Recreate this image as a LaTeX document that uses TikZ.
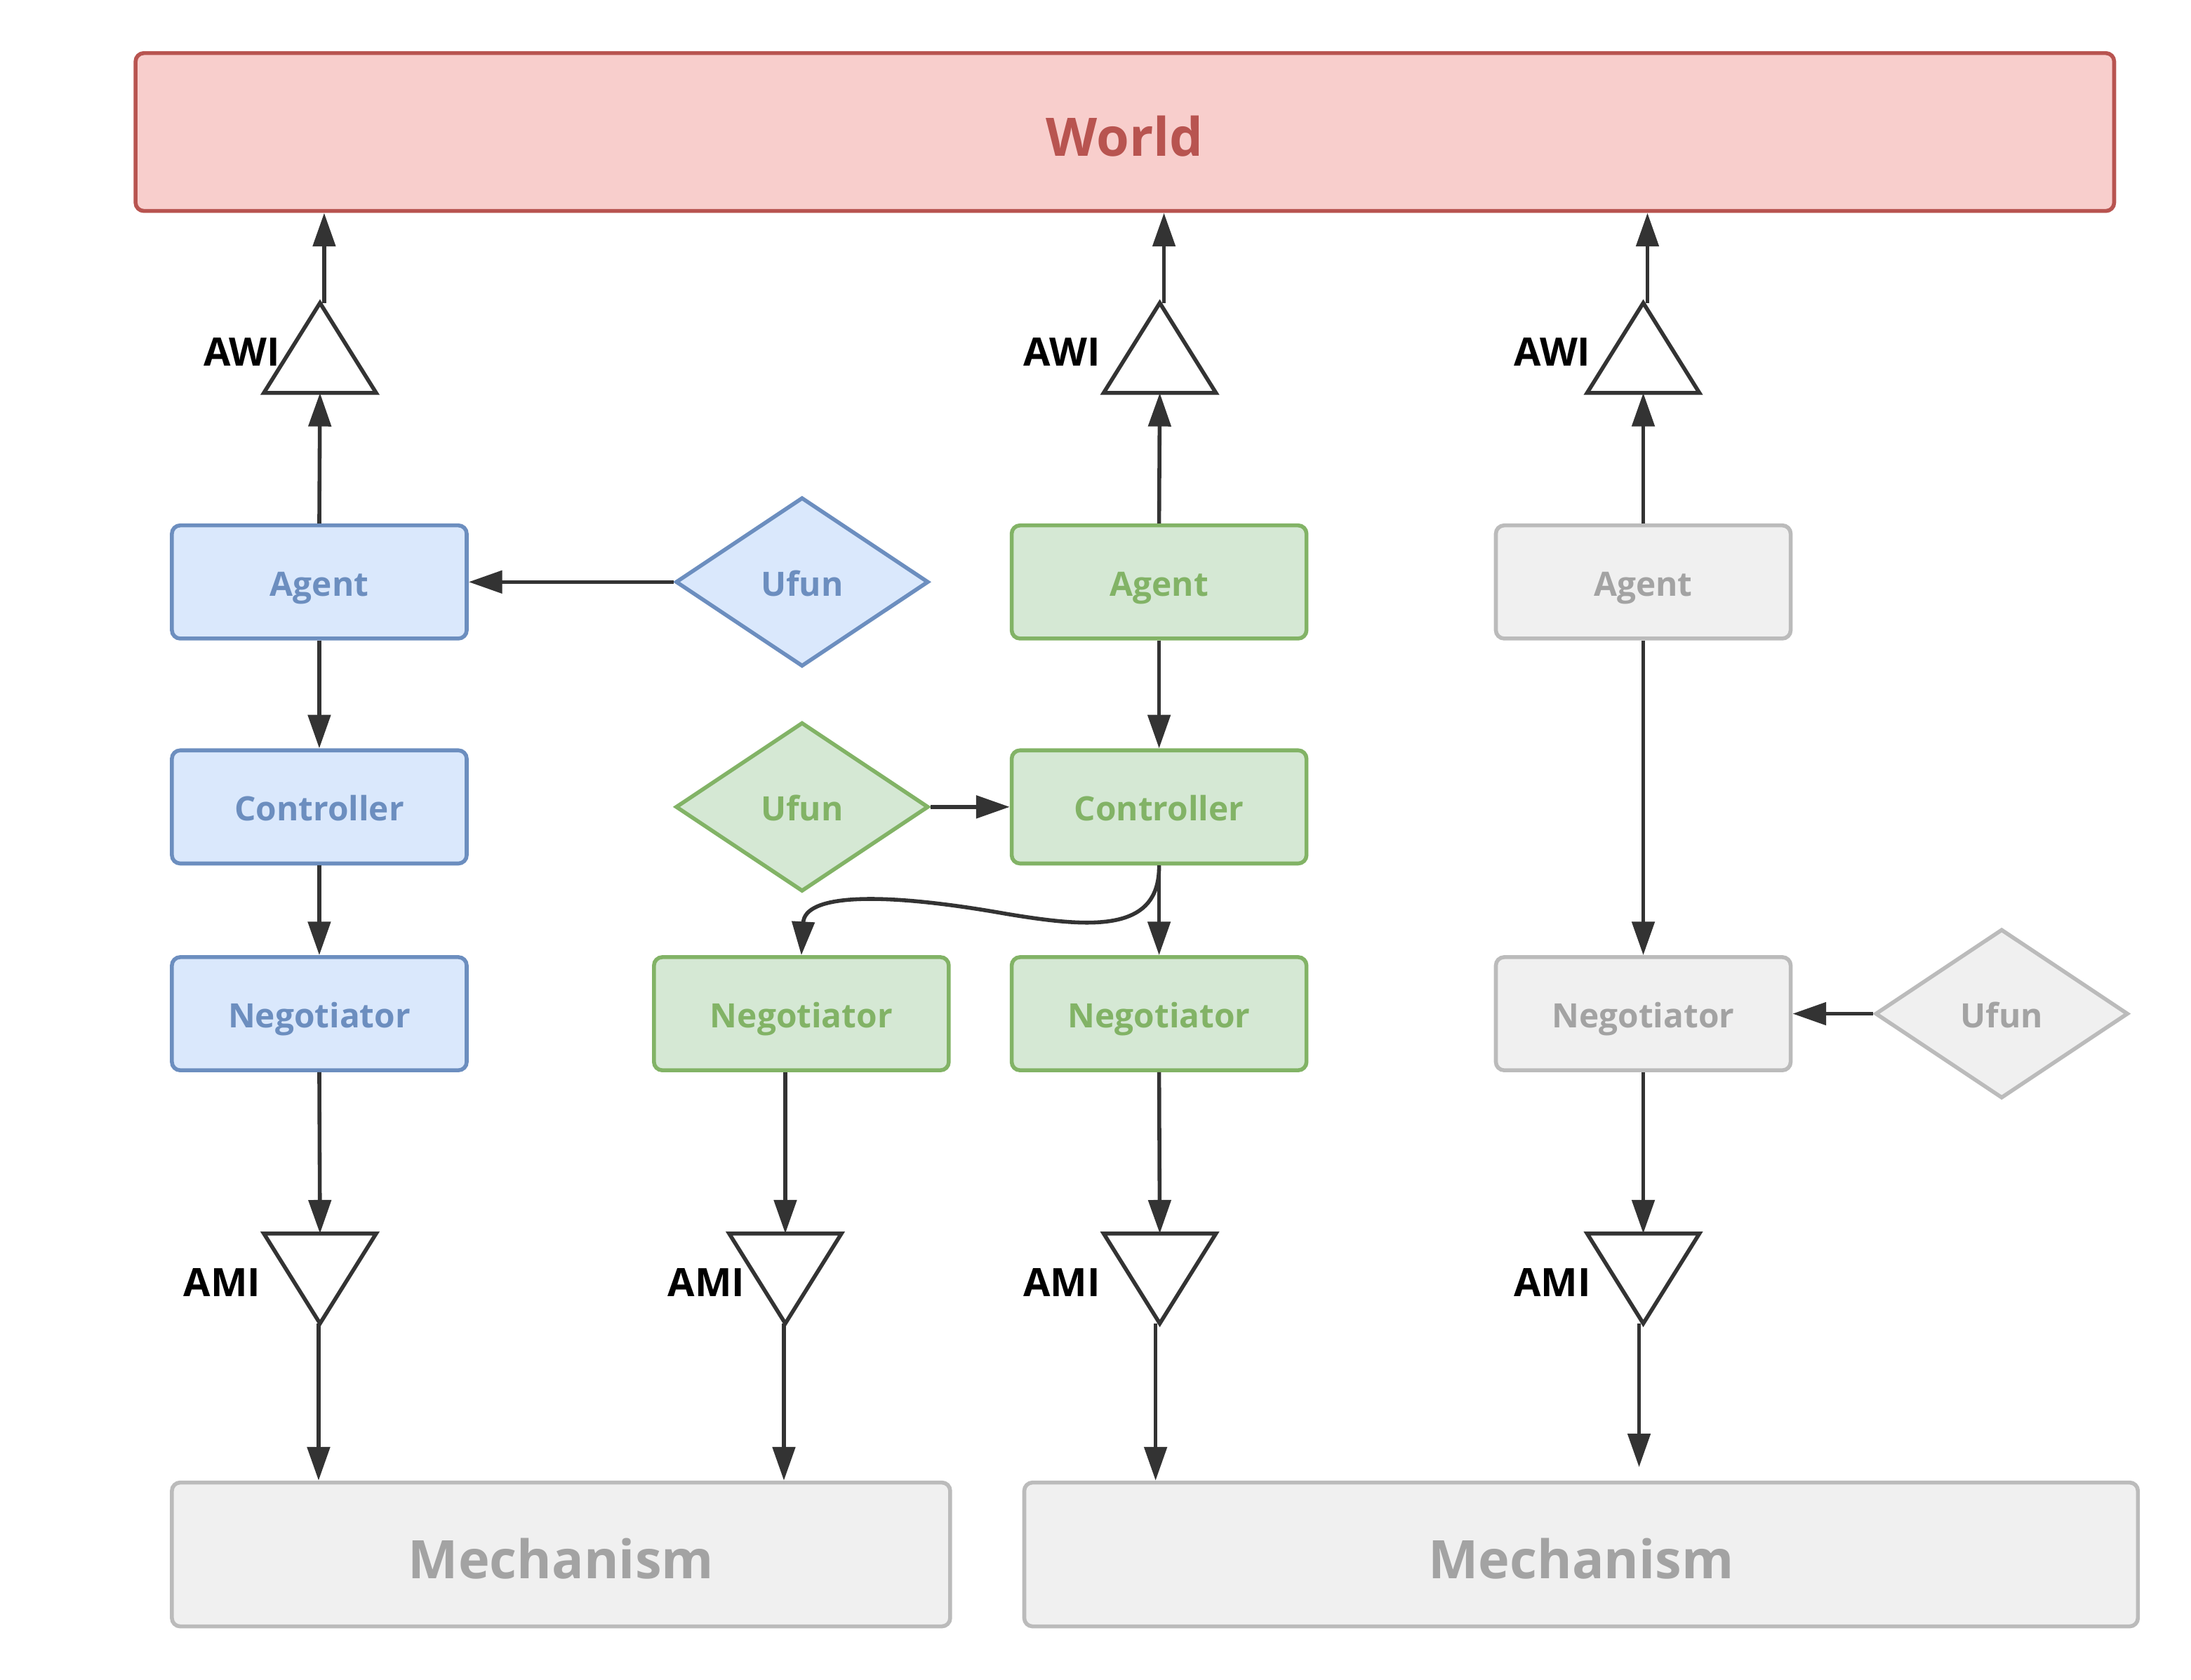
\documentclass[tikz,border=0pt]{standalone}
\usepackage{fontspec}
\setmainfont{Open Sans}
\usetikzlibrary{shapes.geometric,arrows.meta}
\definecolor{bluefill}{HTML}{DAE8FC}
\definecolor{bluestroke}{HTML}{6C8EBF}
\definecolor{greenfill}{HTML}{D5E8D4}
\definecolor{greenstroke}{HTML}{82B366}
\definecolor{greyfill}{HTML}{F0F0F0}
\definecolor{greystroke}{HTML}{BBBBBB}
\definecolor{greytext}{HTML}{A3A3A3}
\definecolor{redfill}{HTML}{F8CECC}
\definecolor{redstroke}{HTML}{B85450}
\definecolor{linec}{HTML}{333333}
\begin{document}
\begin{tikzpicture}[x=1pt,y=-1pt,
  box/.style={rectangle, rounded corners=6pt, line width=2.8pt, minimum width=211pt, minimum height=81pt, inner sep=0pt, text height=22pt, text depth=1.8pt, font=\fontsize{24}{28}\selectfont\bfseries},
  bluebox/.style={box, draw=bluestroke, fill=bluefill, text=bluestroke},
  greenbox/.style={box, draw=greenstroke, fill=greenfill, text=greenstroke},
  greybox/.style={box, draw=greystroke, fill=greyfill, text=greytext},
  dia/.style={diamond, line width=2.8pt, minimum width=181pt, minimum height=121pt, inner sep=0pt, text height=22pt, text depth=1.8pt, font=\fontsize{24}{28}\selectfont\bfseries},
  bigbox/.style={rectangle, rounded corners=6pt, line width=2.8pt, inner sep=0pt, text height=36pt, text depth=1.4pt, font=\fontsize{38}{44}\selectfont\bfseries},
  arr/.style={draw=linec, line width=2.8pt, -{Triangle[length=24pt,width=16pt]}},
  tribox/.style={rectangle, minimum width=80pt, minimum height=64pt, inner sep=0pt},
  tri/.style={draw=linec, line width=2.8pt, fill=white, line join=miter},
  ilabel/.style={font=\fontsize{28}{32}\selectfont\bfseries, text=black, inner sep=0pt},
]
\useasboundingbox (0,0) rectangle (1568,1202.3);

% World
\node[bigbox, draw=redstroke, fill=redfill, text=redstroke, minimum width=1416pt, minimum height=113pt] (world) at (805,94.5) {World};

% Mechanisms
\node[bigbox, draw=greystroke, fill=greyfill, text=greytext, minimum width=557pt, minimum height=103pt] (mech1) at (401.5,1112.5) {Mechanism};
\node[bigbox, draw=greystroke, fill=greyfill, text=greytext, minimum width=797pt, minimum height=103pt] (mech2) at (1131.5,1112.5) {Mechanism};

% Column 1 (blue)
\node[bluebox] (agent1) at (228.5,416.5) {Agent};
\node[bluebox] (ctrl1) at (228.5,577.5) {Controller};
\node[bluebox] (neg1) at (228.5,725.5) {Negotiator};
\node[dia, draw=bluestroke, fill=bluefill, text=bluestroke] (ufun1) at (574,416.5) {Ufun};

% Column 2/3 (green)
\node[dia, draw=greenstroke, fill=greenfill, text=greenstroke] (ufun2) at (574,577.5) {Ufun};
\node[greenbox] (neg2) at (573.5,725.5) {Negotiator};
\node[greenbox] (agent3) at (829.5,416.5) {Agent};
\node[greenbox] (ctrl3) at (829.5,577.5) {Controller};
\node[greenbox] (neg3) at (829.5,725.5) {Negotiator};

% Column 4 (grey)
\node[greybox] (agent4) at (1176,416.5) {Agent};
\node[greybox] (neg4) at (1176,725.5) {Negotiator};
\node[dia, draw=greystroke, fill=greyfill, text=greytext] (ufun4) at (1432.5,725.5) {Ufun};

% AWI triangles
\node[tribox] (awi1) at (229,249) {};
\node[tribox] (awi3) at (830,249) {};
\node[tribox] (awi4) at (1176,249) {};
\foreach \t in {awi1,awi3,awi4}
  \draw[tri] (\t.south west) -- (\t.south east) -- (\t.north) -- cycle;

% AMI triangles
\node[tribox] (ami1) at (229,915) {};
\node[tribox] (ami2) at (562,915) {};
\node[tribox] (ami3) at (830,915) {};
\node[tribox] (ami4) at (1176,915) {};
\foreach \t in {ami1,ami2,ami3,ami4}
  \draw[tri] (\t.north west) -- (\t.north east) -- (\t.south) -- cycle;

% Labels
\node[ilabel] (lawi1) at (173,252) {AWI};
\node[ilabel] (lawi3) at (760,252) {AWI};
\node[ilabel] (lawi4) at (1111,252) {AWI};
\node[ilabel] (lami1) at (159,918) {AMI};
\node[ilabel] (lami2) at (505.5,918) {AMI};
\node[ilabel] (lami3) at (760,918) {AMI};
\node[ilabel] (lami4) at (1111,918) {AMI};

% Connectors to World
\foreach \t in {awi1,awi3,awi4}
  \draw[arr] ([xshift=3pt]\t.north) -- ([xshift=3pt]\t.north |- world.south);

% Agents to AWI
\draw[arr] (agent1.north) -- (awi1.south);
\draw[arr] (agent3.north) -- (awi3.south);
\draw[arr] (agent4.north) -- (awi4.south);

% Column 1
\draw[arr] (ufun1.west) -- (agent1.east);
\draw[arr] (agent1.south) -- (ctrl1.north);
\draw[arr] (ctrl1.south) -- (neg1.north);
\draw[arr] (neg1.south) -- (ami1.north);

% Column 2/3
\draw[arr] (ufun2.east) -- (ctrl3.west);
\draw[arr] (agent3.south) -- (ctrl3.north);
\draw[arr] (ctrl3.south) -- (neg3.north);
\draw[arr] (ctrl3.south) .. controls (830,668) and (780,664) .. (720,654)
                          .. controls (630,638) and (576,640) .. (neg2.north);
\draw[arr] (neg2.south -| ami2.north) -- (ami2.north);
\draw[arr] (neg3.south) -- (ami3.north);

% Column 4
\draw[arr] (ufun4.west) -- (neg4.east);
\draw[arr] (agent4.south) -- (neg4.north);
\draw[arr] (neg4.south) -- (ami4.north);

% AMI to Mechanisms
\coordinate (end4) at (1173,1050);
\draw[arr] ([xshift=-1pt]ami1.south) -- ([xshift=-1pt]ami1.south |- mech1.north);
\draw[arr] ([xshift=-1pt]ami2.south) -- ([xshift=-1pt]ami2.south |- mech1.north);
\draw[arr] ([xshift=-3pt]ami3.south) -- ([xshift=-3pt]ami3.south |- mech2.north);
\draw[arr] ([xshift=-3pt]ami4.south) -- (end4);
\end{tikzpicture}
\end{document}
